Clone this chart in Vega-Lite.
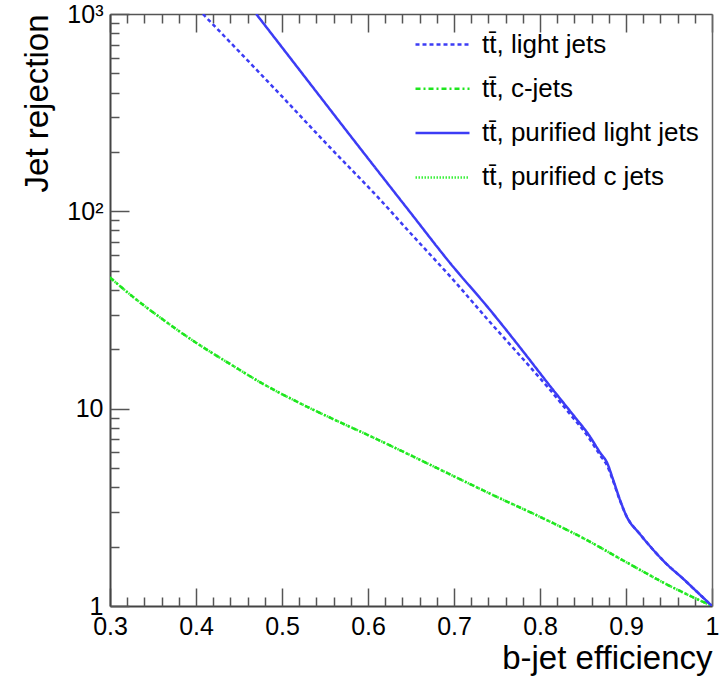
{
  "$schema": "https://vega.github.io/schema/vega-lite/v6.json",
  "width": 602,
  "height": 592,
  "autosize": "none",
  "padding": {"left": 110, "top": 14, "right": 12, "bottom": 72},
  "background": "white",
  "config": {
    "view": {"stroke": null},
    "font": "Liberation Sans",
    "axis": {"grid": false, "labelFont": "Liberation Sans", "titleFont": "Liberation Sans", "labelColor": "black", "titleColor": "black", "titleFontWeight": "normal"}
  },
  "data": {
    "values": [
      {"series": "tt̄, purified c jets", "eff": 0.3, "rej": 46.2},
      {"series": "tt̄, purified c jets", "eff": 0.33, "rej": 35.9},
      {"series": "tt̄, purified c jets", "eff": 0.36, "rej": 28.6},
      {"series": "tt̄, purified c jets", "eff": 0.4, "rej": 21.6},
      {"series": "tt̄, purified c jets", "eff": 0.44, "rej": 16.8},
      {"series": "tt̄, purified c jets", "eff": 0.48, "rej": 13.2},
      {"series": "tt̄, purified c jets", "eff": 0.52, "rej": 10.7},
      {"series": "tt̄, purified c jets", "eff": 0.56, "rej": 8.83},
      {"series": "tt̄, purified c jets", "eff": 0.6, "rej": 7.35},
      {"series": "tt̄, purified c jets", "eff": 0.65, "rej": 5.79},
      {"series": "tt̄, purified c jets", "eff": 0.7, "rej": 4.54},
      {"series": "tt̄, purified c jets", "eff": 0.75, "rej": 3.57},
      {"series": "tt̄, purified c jets", "eff": 0.8, "rej": 2.83},
      {"series": "tt̄, purified c jets", "eff": 0.85, "rej": 2.21},
      {"series": "tt̄, purified c jets", "eff": 0.9, "rej": 1.67},
      {"series": "tt̄, purified c jets", "eff": 0.95, "rej": 1.27},
      {"series": "tt̄, purified c jets", "eff": 1.0, "rej": 1.0},

      {"series": "tt̄, c-jets", "eff": 0.3, "rej": 46.2},
      {"series": "tt̄, c-jets", "eff": 0.33, "rej": 35.9},
      {"series": "tt̄, c-jets", "eff": 0.36, "rej": 28.6},
      {"series": "tt̄, c-jets", "eff": 0.4, "rej": 21.6},
      {"series": "tt̄, c-jets", "eff": 0.44, "rej": 16.8},
      {"series": "tt̄, c-jets", "eff": 0.48, "rej": 13.2},
      {"series": "tt̄, c-jets", "eff": 0.52, "rej": 10.7},
      {"series": "tt̄, c-jets", "eff": 0.56, "rej": 8.83},
      {"series": "tt̄, c-jets", "eff": 0.6, "rej": 7.35},
      {"series": "tt̄, c-jets", "eff": 0.65, "rej": 5.79},
      {"series": "tt̄, c-jets", "eff": 0.7, "rej": 4.54},
      {"series": "tt̄, c-jets", "eff": 0.75, "rej": 3.57},
      {"series": "tt̄, c-jets", "eff": 0.8, "rej": 2.83},
      {"series": "tt̄, c-jets", "eff": 0.85, "rej": 2.21},
      {"series": "tt̄, c-jets", "eff": 0.9, "rej": 1.67},
      {"series": "tt̄, c-jets", "eff": 0.95, "rej": 1.27},
      {"series": "tt̄, c-jets", "eff": 1.0, "rej": 1.0},

      {"series": "tt̄, light jets", "eff": 0.408, "rej": 1000},
      {"series": "tt̄, light jets", "eff": 0.45, "rej": 646},
      {"series": "tt̄, light jets", "eff": 0.5, "rej": 382},
      {"series": "tt̄, light jets", "eff": 0.55, "rej": 224},
      {"series": "tt̄, light jets", "eff": 0.613, "rej": 116},
      {"series": "tt̄, light jets", "eff": 0.65, "rej": 77},
      {"series": "tt̄, light jets", "eff": 0.7, "rej": 44.5},
      {"series": "tt̄, light jets", "eff": 0.742, "rej": 27.4},
      {"series": "tt̄, light jets", "eff": 0.78, "rej": 17.9},
      {"series": "tt̄, light jets", "eff": 0.81, "rej": 12.7},
      {"series": "tt̄, light jets", "eff": 0.833, "rej": 9.6},
      {"series": "tt̄, light jets", "eff": 0.855, "rej": 7.3},
      {"series": "tt̄, light jets", "eff": 0.87, "rej": 5.8},
      {"series": "tt̄, light jets", "eff": 0.878, "rej": 5.15},
      {"series": "tt̄, light jets", "eff": 0.885, "rej": 4.3},
      {"series": "tt̄, light jets", "eff": 0.893, "rej": 3.42},
      {"series": "tt̄, light jets", "eff": 0.901, "rej": 2.83},
      {"series": "tt̄, light jets", "eff": 0.916, "rej": 2.32},
      {"series": "tt̄, light jets", "eff": 0.931, "rej": 1.94},
      {"series": "tt̄, light jets", "eff": 0.948, "rej": 1.62},
      {"series": "tt̄, light jets", "eff": 0.966, "rej": 1.38},
      {"series": "tt̄, light jets", "eff": 0.983, "rej": 1.175},
      {"series": "tt̄, light jets", "eff": 1.0, "rej": 1.0},

      {"series": "tt̄, purified light jets", "eff": 0.47, "rej": 1000},
      {"series": "tt̄, purified light jets", "eff": 0.509, "rej": 603},
      {"series": "tt̄, purified light jets", "eff": 0.541, "rej": 398},
      {"series": "tt̄, purified light jets", "eff": 0.58, "rej": 240},
      {"series": "tt̄, purified light jets", "eff": 0.613, "rej": 157},
      {"series": "tt̄, purified light jets", "eff": 0.65, "rej": 97.7},
      {"series": "tt̄, purified light jets", "eff": 0.695, "rej": 55},
      {"series": "tt̄, purified light jets", "eff": 0.742, "rej": 31.6},
      {"series": "tt̄, purified light jets", "eff": 0.78, "rej": 19.6},
      {"series": "tt̄, purified light jets", "eff": 0.81, "rej": 13.3},
      {"series": "tt̄, purified light jets", "eff": 0.843, "rej": 8.79},
      {"series": "tt̄, purified light jets", "eff": 0.855, "rej": 7.55},
      {"series": "tt̄, purified light jets", "eff": 0.87, "rej": 5.98},
      {"series": "tt̄, purified light jets", "eff": 0.878, "rej": 5.32},
      {"series": "tt̄, purified light jets", "eff": 0.885, "rej": 4.37},
      {"series": "tt̄, purified light jets", "eff": 0.893, "rej": 3.45},
      {"series": "tt̄, purified light jets", "eff": 0.901, "rej": 2.83},
      {"series": "tt̄, purified light jets", "eff": 0.916, "rej": 2.32},
      {"series": "tt̄, purified light jets", "eff": 0.931, "rej": 1.94},
      {"series": "tt̄, purified light jets", "eff": 0.948, "rej": 1.62},
      {"series": "tt̄, purified light jets", "eff": 0.966, "rej": 1.38},
      {"series": "tt̄, purified light jets", "eff": 0.983, "rej": 1.175},
      {"series": "tt̄, purified light jets", "eff": 1.0, "rej": 1.0}
    ]
  },
  "resolve": {"axis": {"x": "independent", "y": "independent"}},
  "layer": [
    {
      "mark": {"type": "line", "clip": true, "strokeCap": "butt", "interpolate": "monotone"},
      "encoding": {
        "x": {
          "field": "eff", "type": "quantitative",
          "scale": {"domain": [0.3, 1], "nice": false, "zero": false},
          "axis": {
            "orient": "bottom", "values": [0.3, 0.4, 0.5, 0.6, 0.7, 0.8, 0.9, 1.0], "format": "~g",
            "ticks": false, "domain": true, "domainColor": "#444", "domainWidth": 2,
            "labelFontSize": 25, "labelPadding": 8, "labelFlush": false,
            "title": "b-jet efficiency", "titleFontSize": 33, "titleAnchor": "end", "titlePadding": 3
          }
        },
        "y": {
          "field": "rej", "type": "quantitative",
          "scale": {"type": "log", "domain": [1, 1000], "nice": false},
          "axis": {
            "orient": "left", "values": [1, 10, 100, 1000],
            "labelExpr": "datum.value >= 1000 ? '10³' : datum.value >= 100 ? '10²' : datum.value >= 10 ? '10' : '1'",
            "ticks": false, "domain": true, "domainColor": "#444", "domainWidth": 2,
            "labelFontSize": 25, "labelPadding": 7, "labelFlush": false,
            "title": "Jet rejection", "titleFontSize": 33, "titleAnchor": "end", "titlePadding": 12
          }
        },
        "color": {
          "field": "series", "type": "nominal",
          "scale": {
            "domain": ["tt̄, light jets", "tt̄, c-jets", "tt̄, purified light jets", "tt̄, purified c jets"],
            "range": ["#3c3cf5", "#1ee61e", "#3c3cf5", "#3cf03c"]
          },
          "legend": {
            "title": null, "orient": "none", "legendX": 304, "legendY": 2,
            "symbolType": "stroke", "symbolSize": 2916, "labelFontSize": 26, "labelOffset": 11, "labelLimit": 400,
            "rowPadding": 2.3, "padding": 0, "labelColor": "black", "labelFont": "Liberation Sans"
          }
        },
        "strokeDash": {
          "field": "series", "type": "nominal",
          "scale": {
            "domain": ["tt̄, light jets", "tt̄, c-jets", "tt̄, purified light jets", "tt̄, purified c jets"],
            "range": [[4, 3], [5, 3, 2, 3], [1, 0], [1.5, 1.5]]
          },
          "legend": {
            "title": null, "orient": "none", "legendX": 304, "legendY": 2,
            "symbolType": "stroke", "symbolSize": 2916, "labelFontSize": 26, "labelOffset": 11, "labelLimit": 400,
            "rowPadding": 2.3, "padding": 0, "labelColor": "black", "labelFont": "Liberation Sans"
          }
        },
        "strokeWidth": {
          "field": "series", "type": "nominal",
          "scale": {
            "domain": ["tt̄, light jets", "tt̄, c-jets", "tt̄, purified light jets", "tt̄, purified c jets"],
            "range": [2.5, 2.5, 3, 1.5]
          },
          "legend": {
            "title": null, "orient": "none", "legendX": 304, "legendY": 2,
            "symbolType": "stroke", "symbolSize": 2916, "labelFontSize": 26, "labelOffset": 11, "labelLimit": 400,
            "rowPadding": 2.3, "padding": 0, "labelColor": "black", "labelFont": "Liberation Sans"
          }
        }
      }
    },
    {
      "mark": {"type": "point", "opacity": 0},
      "encoding": {
        "x": {"field": "eff", "type": "quantitative",
          "axis": {"orient": "bottom", "values": [0.3, 0.4, 0.5, 0.6, 0.7, 0.8, 0.9, 1.0], "labels": false, "domain": false,
            "tickSize": -18, "tickColor": "#555", "tickWidth": 1.5, "title": null}},
        "y": {"field": "rej", "type": "quantitative",
          "axis": {"orient": "left", "values": [1, 10, 100, 1000], "labels": false, "domain": false,
            "tickSize": -19, "tickColor": "#555", "tickWidth": 1.5, "title": null}}
      }
    },
    {
      "mark": {"type": "point", "opacity": 0},
      "encoding": {
        "x": {"field": "eff", "type": "quantitative",
          "axis": {"orient": "bottom", "values": [0.32, 0.34, 0.36, 0.38, 0.42, 0.44, 0.46, 0.48, 0.52, 0.54, 0.56, 0.58, 0.62, 0.64, 0.66, 0.68, 0.72, 0.74, 0.76, 0.78, 0.82, 0.84, 0.86, 0.88, 0.92, 0.94, 0.96, 0.98],
            "labels": false, "domain": false, "tickSize": -9, "tickColor": "#555", "tickWidth": 1.5, "title": null}},
        "y": {"field": "rej", "type": "quantitative",
          "axis": {"orient": "left", "values": [2, 3, 4, 5, 6, 7, 8, 9, 20, 30, 40, 50, 60, 70, 80, 90, 200, 300, 400, 500, 600, 700, 800, 900],
            "labels": false, "domain": false, "tickSize": -9, "tickColor": "#555", "tickWidth": 1.5, "title": null}}
      }
    },
    {
      "mark": {"type": "point", "opacity": 0},
      "encoding": {
        "x": {"field": "eff", "type": "quantitative",
          "axis": {"orient": "top", "values": [0.3, 0.4, 0.5, 0.6, 0.7, 0.8, 0.9, 1.0], "labels": false, "domain": true,
            "domainColor": "#555", "domainWidth": 1.5,
            "tickSize": -18, "tickColor": "#555", "tickWidth": 1.5, "title": null}},
        "y": {"field": "rej", "type": "quantitative",
          "axis": {"orient": "right", "labels": false, "ticks": false, "domain": true, "domainColor": "#666", "domainWidth": 1.5, "title": null}}
      }
    },
    {
      "mark": {"type": "point", "opacity": 0},
      "encoding": {
        "x": {"field": "eff", "type": "quantitative",
          "axis": {"orient": "top", "values": [0.32, 0.34, 0.36, 0.38, 0.42, 0.44, 0.46, 0.48, 0.52, 0.54, 0.56, 0.58, 0.62, 0.64, 0.66, 0.68, 0.72, 0.74, 0.76, 0.78, 0.82, 0.84, 0.86, 0.88, 0.92, 0.94, 0.96, 0.98],
            "labels": false, "domain": false, "tickSize": -9, "tickColor": "#555", "tickWidth": 1.5, "title": null}},
        "y": {"field": "rej", "type": "quantitative", "axis": null}
      }
    }
  ]
}
